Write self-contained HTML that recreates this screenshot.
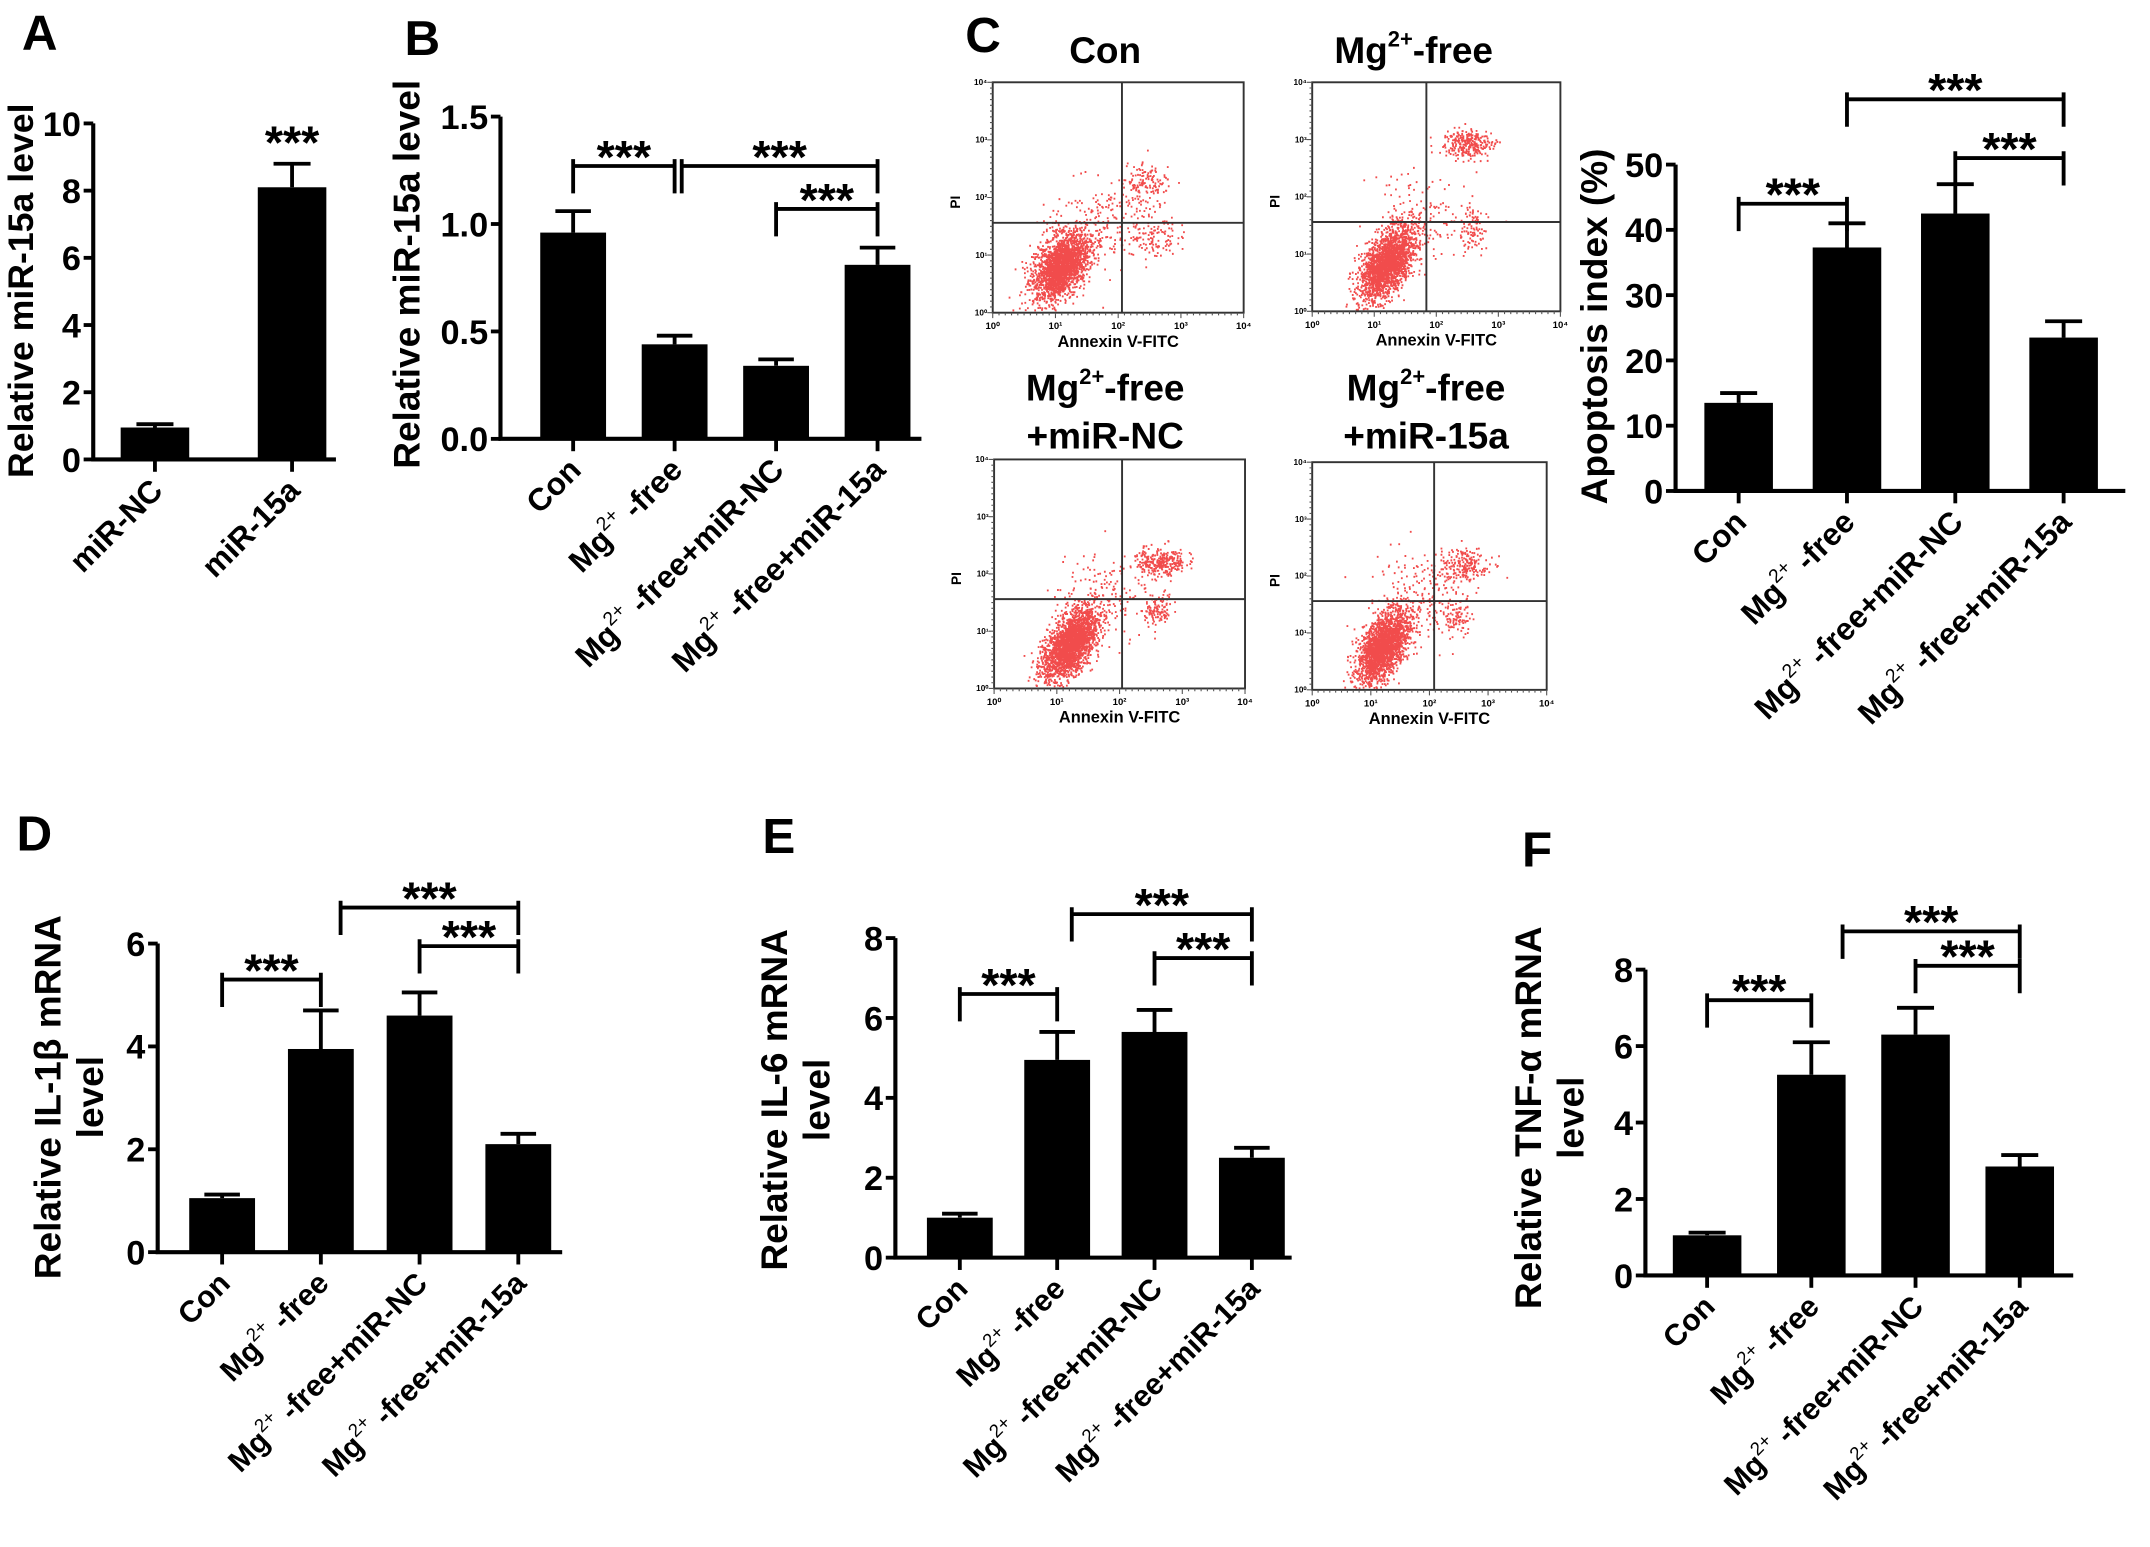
<!DOCTYPE html>
<html><head><meta charset="utf-8"><style>
html,body{margin:0;padding:0;background:#fff}
svg{display:block}
text{font-family:"Liberation Sans",sans-serif;font-weight:bold;fill:#000}
</style></head><body>
<svg id="fig" xmlns="http://www.w3.org/2000/svg" width="2150" height="1547" viewBox="0 0 1568 1128" preserveAspectRatio="none">
<text x="16" y="36" font-size="36">A</text>
<text x="295" y="40" font-size="36">B</text>
<text x="704" y="38" font-size="36">C</text>
<text x="12" y="620" font-size="36">D</text>
<text x="556" y="622" font-size="36">E</text>
<text x="1110" y="632" font-size="36">F</text>
<g id="plots"></g>
</svg>
<script>
// ---- data ----
const catsA = ["miR-NC","miR-15a"];
const valsA = [0.95, 8.1];
const errA = [1.05, 8.8];
const ticksA = [0,2,4,6,8,10];

const cats4 = ["Con","Mg2+ -free","Mg2+ -free+miR-NC","Mg2+ -free+miR-15a"];

const valsB = [0.96, 0.44, 0.34, 0.81];
const errB = [1.06, 0.48, 0.37, 0.89];
const ticksB = ["0.0","0.5","1.0","1.5"];

const valsC = [13.5, 37.3, 42.5, 23.5];
const errC = [15, 41, 47, 26];
const ticksC = [0,10,20,30,40,50];

const valsD = [1.05, 3.95, 4.6, 2.1];
const errD = [1.12, 4.7, 5.05, 2.3];
const ticksD = [0,2,4,6];

const valsE = [1.0, 4.95, 5.65, 2.5];
const errE = [1.1, 5.65, 6.2, 2.75];
const ticksE = [0,2,4,6,8];

const valsF = [1.05, 5.25, 6.3, 2.85];
const errF = [1.12, 6.1, 7.0, 3.15];
const ticksF = [0,2,4,6,8];

// brackets: [fromIndex, toIndex, value-level]
const brA = [];
const brB = [[0,1,1.27],[1.07,3,1.27],[2,3,1.07]];
const brC = [[0,1,44],[1,3,60],[2,3,51]];
const brD = [[0,1,5.3],[1.2,3,6.7],[2,3,5.95]];
const brE = [[0,1,6.6],[1.15,3,8.6],[2,3,7.5]];
const brF = [[0,1,7.2],[1.3,3,9.0],[2,3,8.1]];

const NS = "http://www.w3.org/2000/svg";
const root = document.getElementById("plots");
function mk(tag, attrs, parent){
  const e = document.createElementNS(NS, tag);
  for (const k in attrs) e.setAttribute(k, attrs[k]);
  (parent||root).appendChild(e);
  return e;
}
function catLabel(g, txt, x, y, fs){
  const t = mk("text", {x:x, y:y, "font-size":fs, "text-anchor":"end", transform:"rotate(-45 "+x+" "+y+")"}, g);
  
  
  if (txt.indexOf("Mg2+")===0){
    const a = document.createElementNS(NS,"tspan"); a.textContent="Mg"; t.appendChild(a);
    const b = document.createElementNS(NS,"tspan"); b.textContent="2+"; b.setAttribute("font-size", fs*0.62); b.setAttribute("font-weight","normal"); b.setAttribute("dy", -fs*0.45); t.appendChild(b);
    const c = document.createElementNS(NS,"tspan"); c.textContent=txt.slice(4); c.setAttribute("dy", fs*0.45); t.appendChild(c);
  } else t.textContent = txt;
}
function barChart(o){
  const g = mk("g", {});
  
  
  const ys = v => o.y0 - (v - o.min)/(o.max - o.min)*(o.y0 - o.y1);
  const xs = i => o.xFirst + i*o.step;
  o.vals.forEach((v,i)=>{
    const r = mk("rect", {x:xs(i)-o.bw/2, y:ys(v), width:o.bw, height:o.y0-ys(v), fill:"#000"}, g);
    
    
    const e = mk("path", {d:"M"+xs(i)+" "+ys(v)+"V"+ys(o.errs[i])+"M"+(xs(i)-o.bw*0.27)+" "+ys(o.errs[i])+"H"+(xs(i)+o.bw*0.27), stroke:"#000", "stroke-width":2.8, fill:"none"}, g);
    
    
  });
  const ax = mk("path", {d:"M"+o.ax+" "+o.y1+"V"+o.y0+"H"+o.axEnd, stroke:"#000","stroke-width":3, fill:"none"}, g);
  
  
  o.ticks.forEach(t=>{
    const v = parseFloat(t);
    mk("path", {d:"M"+(o.ax-7)+" "+ys(v)+"H"+o.ax, stroke:"#000","stroke-width":2.8}, g);
    const tl = mk("text", {x:o.ax-9, y:ys(v)+9, "font-size":o.tfs, "text-anchor":"end"}, g);
    
    
    tl.textContent = t;
  });
  o.cats.forEach((c,i)=>{
    mk("path", {d:"M"+xs(i)+" "+o.y0+"V"+(o.y0+9), stroke:"#000","stroke-width":2.8}, g);
    catLabel(g, c, xs(i)+7, o.y0+24, o.cfs);
  });
  o.title.forEach((line,k)=>{
    const tx = o.tx + k*o.tdx;
    const t = mk("text", {x:tx, y:o.ty, "font-size":o.tsz, "text-anchor":"middle", transform:"rotate(-90 "+tx+" "+o.ty+")"}, g);
    
    
    t.textContent = line;
  });
  o.br.forEach(b=>{
    const xa = xs(b[0]), xb = xs(b[1]), y = ys(b[2]);
    const p = mk("path", {d:"M"+xa+" "+(y+20)+"V"+(y-5)+"M"+xa+" "+y+"H"+xb+"M"+xb+" "+(y-5)+"V"+(y+20), stroke:"#000","stroke-width":2.8, fill:"none"}, g);
    
    
    const s = mk("text", {x:(xa+xb)/2, y:y+5, "font-size":o.sfs, "text-anchor":"middle"}, g);
    
    
    s.textContent = "***";
  });
  if (o.star){
    const s = mk("text", {x:xs(1), y:ys(o.errs[1])-4, "font-size":o.sfs, "text-anchor":"middle"}, g);
    
    
    s.textContent = "***";
  }
}
barChart({name:"panel-a-chart", cats:catsA, vals:valsA, errs:errA, ticks:ticksA.map(String), min:0, max:10, y0:335, y1:90, ax:68, axEnd:245, xFirst:113, step:100, bw:50, tfs:25, cfs:23, title:["Relative miR-15a level"], tx:24, tdx:0, ty:212, tsz:26, br:brA, sfs:34, star:true});
barChart({name:"panel-b-chart", cats:cats4, vals:valsB, errs:errB, ticks:ticksB, min:0, max:1.5, y0:320, y1:85, ax:365, axEnd:672, xFirst:418, step:74, bw:48, tfs:25, cfs:23, title:["Relative miR-15a level"], tx:306, tdx:0, ty:200, tsz:27, br:brB, sfs:34});
barChart({name:"panel-c-apoptosis-chart", cats:cats4, vals:valsC, errs:errC, ticks:ticksC.map(String), min:0, max:50, y0:358, y1:120, ax:1222, axEnd:1550, xFirst:1268, step:79, bw:50, tfs:25, cfs:23, title:["Apoptosis index (%)"], tx:1172, tdx:0, ty:238, tsz:27, br:brC, sfs:34});
barChart({name:"panel-d-chart", cats:cats4, vals:valsD, errs:errD, ticks:ticksD.map(String), min:0, max:6, y0:913, y1:688, ax:115, axEnd:410, xFirst:162, step:72, bw:48, tfs:25, cfs:22, title:["Relative IL-1\u03b2 mRNA","level"], tx:44, tdx:31, ty:800, tsz:27, br:brD, sfs:34});
barChart({name:"panel-e-chart", cats:cats4, vals:valsE, errs:errE, ticks:ticksE.map(String), min:0, max:8, y0:917, y1:684, ax:653, axEnd:942, xFirst:700, step:71, bw:48, tfs:25, cfs:22, title:["Relative IL-6 mRNA","level"], tx:574, tdx:31, ty:802, tsz:27, br:brE, sfs:34});
barChart({name:"panel-f-chart", cats:cats4, vals:valsF, errs:errF, ticks:ticksF.map(String), min:0, max:8, y0:930, y1:707, ax:1200, axEnd:1512, xFirst:1245, step:76, bw:50, tfs:25, cfs:22, title:["Relative TNF-\u03b1 mRNA","level"], tx:1124, tdx:31, ty:815, tsz:27, br:brF, sfs:34});

// ---- flow cytometry panels ----
const flowTitles = [["Con"],["Mg2+-free"],["Mg2+-free","+miR-NC"],["Mg2+-free","+miR-15a"]];
// clusters: [fx, fy, sx, sy, count, tilt]
const flowClusters = [
  [[0.27,0.80,0.055,0.065,2200,0.6],[0.40,0.62,0.10,0.10,180,0],[0.61,0.45,0.05,0.05,150,0],[0.63,0.68,0.05,0.05,120,0]],
  [[0.30,0.79,0.055,0.065,2200,0.8],[0.42,0.60,0.10,0.10,160,0],[0.63,0.27,0.05,0.03,300,0],[0.64,0.64,0.03,0.05,100,0]],
  [[0.30,0.81,0.055,0.065,2200,0.8],[0.43,0.62,0.10,0.10,160,0],[0.66,0.45,0.05,0.03,300,0],[0.65,0.65,0.03,0.04,110,0]],
  [[0.30,0.81,0.055,0.065,2200,0.8],[0.45,0.60,0.10,0.10,180,0],[0.63,0.46,0.06,0.04,220,0],[0.62,0.68,0.03,0.04,90,0]]
];
const flowBoxes = [[724,60,183,168,0.515,0.61],[957,60,181,167,0.46,0.61],[725,335,183,167,0.51,0.61],[957,337,171,166,0.52,0.61]];
const flowTitlePos = [[806,46],[1031,46],[806,292],[1040,292]];
let seed = 12345;
function rnd(){ seed = (seed*1103515245 + 12345) % 2147483648; return seed/2147483648; }
function gauss(){ let u=rnd()||1e-6, v=rnd(); return Math.sqrt(-2*Math.log(u))*Math.cos(2*Math.PI*v); }
flowBoxes.forEach((b,k)=>{
  const g = mk("g", {});
  
  
  const [x,y,w,h,vx,hy] = b;
  let d = "";
  flowClusters[k].forEach(c=>{
    for(let i=0;i<c[4];i++){
      const g1=gauss(), g2=gauss();
      const px = x + w*(c[0]+c[2]*g1), py = y + h*(c[1]-c[2]*c[5]*g1+c[3]*g2);
      if (px>x+1 && px<x+w-1 && py>y+1 && py<y+h-1) d += "M"+px.toFixed(1)+" "+py.toFixed(1)+"h1.3";
    }
  });
  const pts = mk("path", {d:d, stroke:"rgba(235,0,0,0.7)", "stroke-width":1.4, fill:"none"}, g);
  
  
  mk("rect", {x:x, y:y, width:w, height:h, fill:"none", stroke:"#333", "stroke-width":1.4}, g);
  mk("path", {d:"M"+(x+w*vx)+" "+y+"V"+(y+h)+"M"+x+" "+(y+h*(1-hy)+h*0.22)+"H"+(x+w), stroke:"#333", "stroke-width":1.4}, g);
  let tk = "";
  for(let i=0;i<=40;i++){ tk += "M"+(x+w*i/40)+" "+(y+h)+"v"+(i%10?2:4); tk += "M"+x+" "+(y+h*i/40)+"h"+(i%10?-2:-4); }
  mk("path", {d:tk, stroke:"#555", "stroke-width":0.8}, g);
  for(let i=0;i<=4;i++){
    const t1 = mk("text", {x:x+w*i/4, y:y+h+12, "font-size":7, "text-anchor":"middle", "font-weight":"normal", fill:"#555"}, g);
    t1.textContent = "10"+["\u2070","\u00b9","\u00b2","\u00b3","\u2074"][i];
    const t2 = mk("text", {x:x-4, y:y+h-h*i/4+2, "font-size":6, "text-anchor":"end", "font-weight":"normal", fill:"#555"}, g);
    t2.textContent = "10"+["\u2070","\u00b9","\u00b2","\u00b3","\u2074"][i];
  }
  const xl = mk("text", {x:x+w/2, y:y+h+25, "font-size":12, "text-anchor":"middle"}, g);
  
  
  xl.textContent = "Annexin V-FITC";
  const yl = mk("text", {x:x-24, y:y+h*0.52, "font-size":10, "text-anchor":"middle", transform:"rotate(-90 "+(x-24)+" "+(y+h*0.52)+")"}, g);
  
  
  yl.textContent = "PI";
  const [tx,ty] = flowTitlePos[k];
  flowTitles[k].forEach((line,j)=>{
    const t = mk("text", {x:tx, y:ty+j*35, "font-size":27, "text-anchor":"middle"}, g);
    
    
    if (line.indexOf("Mg2+")===0){
      const a=document.createElementNS(NS,"tspan"); a.textContent="Mg"; t.appendChild(a);
      const s=document.createElementNS(NS,"tspan"); s.textContent="2+"; s.setAttribute("font-size",16); s.setAttribute("dy",-12); t.appendChild(s);
      const c=document.createElementNS(NS,"tspan"); c.textContent=line.slice(4); c.setAttribute("dy",12); t.appendChild(c);
    } else t.textContent = line;
  });
});
</script>
</body></html>
